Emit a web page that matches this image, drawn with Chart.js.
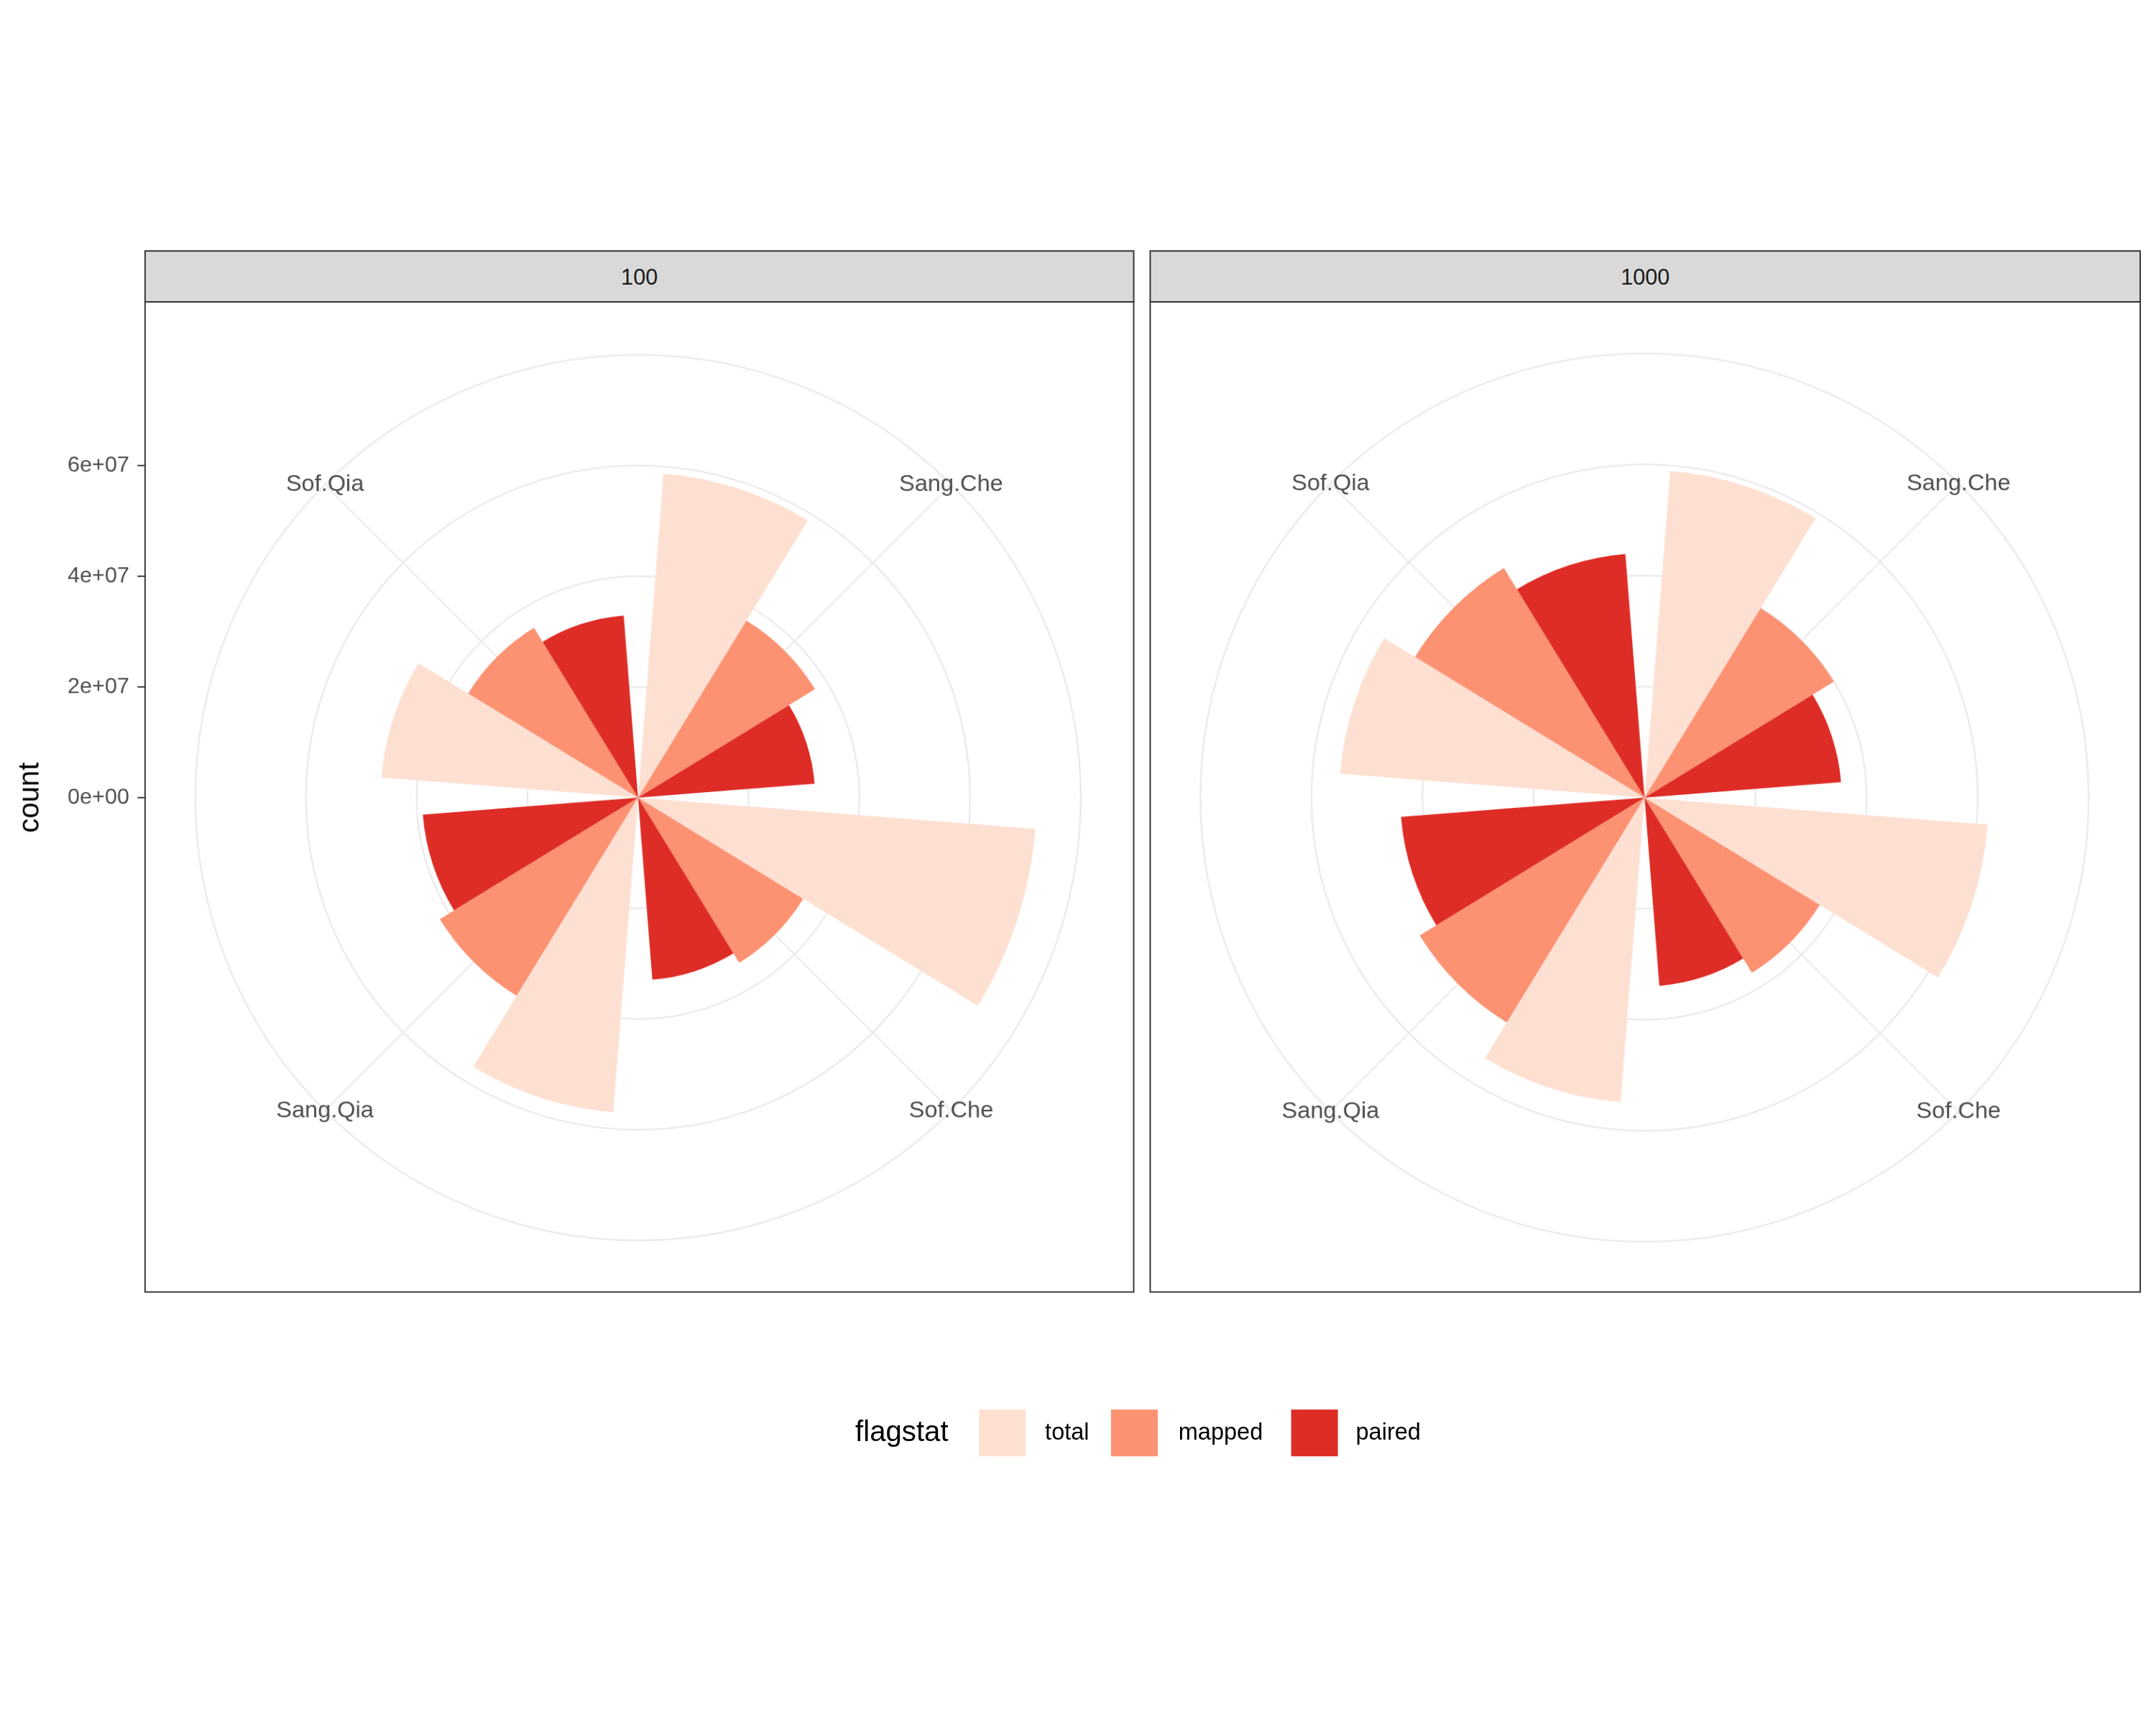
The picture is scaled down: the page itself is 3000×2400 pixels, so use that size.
<!DOCTYPE html>
<html>
<head>
<meta charset="utf-8">
<script src="https://cdn.jsdelivr.net/npm/chart.js@4"></script>
<style>
body{margin:0;background:#fff;font-family:"Liberation Sans",Arial,sans-serif;}
#wrap{position:absolute;left:0;top:0;width:1568px;height:1254px;transform:scale(1.9133);transform-origin:0 0;}
.strip{position:absolute;top:182px;height:38px;background:#D9D9D9;border:1px solid #333;text-align:center;line-height:38px;font-size:16px;color:#1a1a1a;box-sizing:border-box;}
.frame{position:absolute;top:219px;height:721px;border:1px solid #333;box-sizing:border-box;}
canvas{position:absolute;}
.lg{position:absolute;font-size:17px;color:#000;}
.sw{position:absolute;width:34px;height:34px;top:1025px;}
</style>
</head>
<body>
<div id="wrap">
  <div class="strip" style="left:105px;width:720px">100</div>
  <div class="strip" style="left:836px;width:721px">1000</div>
  <div class="frame" style="left:105px;width:720px"></div>
  <div class="frame" style="left:836px;width:721px"></div>
  <div style="position:absolute;left:0;top:220px;width:824px;height:720px"><canvas id="c100"></canvas></div>
  <div style="position:absolute;left:836px;top:220px;width:720px;height:720px"><canvas id="c1000"></canvas></div>
  <div class="lg" style="left:622px;top:1029px;font-size:21px">flagstat</div>
  <div class="sw" style="left:712px;background:#FEE0D2"></div>
  <div class="lg" style="left:760px;top:1032px">total</div>
  <div class="sw" style="left:808px;background:#FC9272"></div>
  <div class="lg" style="left:857px;top:1032px">mapped</div>
  <div class="sw" style="left:939px;background:#DE2D26"></div>
  <div class="lg" style="left:986px;top:1032px">paired</div>
</div>
<script>
const samples = ['Sang.Che', 'Sof.Che', 'Sang.Qia', 'Sof.Qia'];
const flagstats = ['total', 'mapped', 'paired'];
const colors = ['#FEE0D2', '#FC9272', '#DE2D26'];
const yTicks = [0, 2e7, 4e7, 6e7];
const yTickLabels = ['0e+00', '2e+07', '4e+07', '6e+07'];
// values per sample: total, mapped, paired
const counts100 = [
    [5.87e7, 3.75e7, 3.2e7],
    [7.2e7, 3.5e7, 3.3e7],
    [5.7e7, 4.2e7, 3.9e7],
    [4.65e7, 3.6e7, 3.3e7]
];
const counts1000 = [
    [5.9e7, 4.0e7, 3.55e7],
    [6.2e7, 3.7e7, 3.4e7],
    [5.5e7, 4.75e7, 4.4e7],
    [5.5e7, 4.85e7, 4.4e7]
];

function makeChart(id, counts, withAxis){
    // each sample: gap, total, mapped, paired, gap (bar width 0.9 of the category)
    let labels = [], data = [], bg = [], angles = [];
    samples.forEach((s, i)=>{
        labels.push(''); data.push(0); bg.push('rgba(0,0,0,0)'); angles.push(4.5);
        flagstats.forEach((f, j)=>{
            labels.push(s + ' ' + f);
            data.push(counts[i][j]);
            bg.push(colors[j]);
            angles.push(27);
        });
        labels.push(''); data.push(0); bg.push('rgba(0,0,0,0)'); angles.push(4.5);
    });
    let deco = {
        id: 'deco',
        beforeDatasetsDraw(chart){
            let ctx = chart.ctx, r = chart.scales.r;
            let R = r.getDistanceFromCenterForValue(8e7);
            ctx.save();
            ctx.strokeStyle = '#EBEBEB';
            ctx.lineWidth = 1.1;
            for (let k = 0; k < 4; k++){
                let a = -Math.PI/2 + Math.PI/4 + k*Math.PI/2;
                ctx.beginPath();
                ctx.moveTo(r.xCenter, r.yCenter);
                ctx.lineTo(r.xCenter + R*Math.cos(a), r.yCenter + R*Math.sin(a));
                ctx.stroke();
            }
            ctx.restore();
        },
        afterDraw(chart){
            let ctx = chart.ctx, r = chart.scales.r;
            let R = r.getDistanceFromCenterForValue(8e7);
            ctx.save();
            ctx.fillStyle = '#4D4D4D';
            ctx.font = '17px "Liberation Sans", Arial, sans-serif';
            ctx.textAlign = 'center';
            ctx.textBaseline = 'middle';
            samples.forEach((s, k)=>{
                let a = -Math.PI/2 + Math.PI/4 + k*Math.PI/2;
                ctx.fillText(s, r.xCenter + R*Math.cos(a), r.yCenter + R*Math.sin(a));
            });
            if (withAxis){
                ctx.font = '16px "Liberation Sans", Arial, sans-serif';
                ctx.textAlign = 'right';
                yTicks.forEach((v, i)=>{
                    let y = r.yCenter - r.getDistanceFromCenterForValue(v);
                    ctx.fillStyle = '#4D4D4D';
                    ctx.fillText(yTickLabels[i], 94, y);
                    ctx.strokeStyle = '#333';
                    ctx.beginPath(); ctx.moveTo(100, y); ctx.lineTo(105, y); ctx.stroke();
                });
                ctx.fillStyle = '#000';
                ctx.font = '21px "Liberation Sans", Arial, sans-serif';
                ctx.translate(22, r.yCenter);
                ctx.rotate(-Math.PI/2);
                ctx.textAlign = 'center';
                ctx.fillText('count', 0, 0);
            }
            ctx.restore();
        }
    };
    return new Chart(document.getElementById(id), {
        type: 'polarArea',
        data: {labels: labels, datasets: [{
            data: data, backgroundColor: bg, borderWidth: 0,
            angle: (c)=>angles[c.dataIndex]
        }]},
        options: {
            responsive: true,
            maintainAspectRatio: false,
            animation: false,
            devicePixelRatio: 2,
            layout: {padding: withAxis ? {left: 142, right: 37, top: 37, bottom: 37} : 37},
            plugins: {legend: {display: false}, tooltip: {enabled: false}},
            scales: {r: {
                min: 0, max: 8e7,
                ticks: {display: false, stepSize: 2e7},
                grid: {color: '#EBEBEB', lineWidth: 1.3},
                angleLines: {display: false},
                pointLabels: {display: false}
            }}
        },
        plugins: [deco]
    });
}
makeChart('c100', counts100, true);
makeChart('c1000', counts1000, false);
</script>
</body>
</html>
